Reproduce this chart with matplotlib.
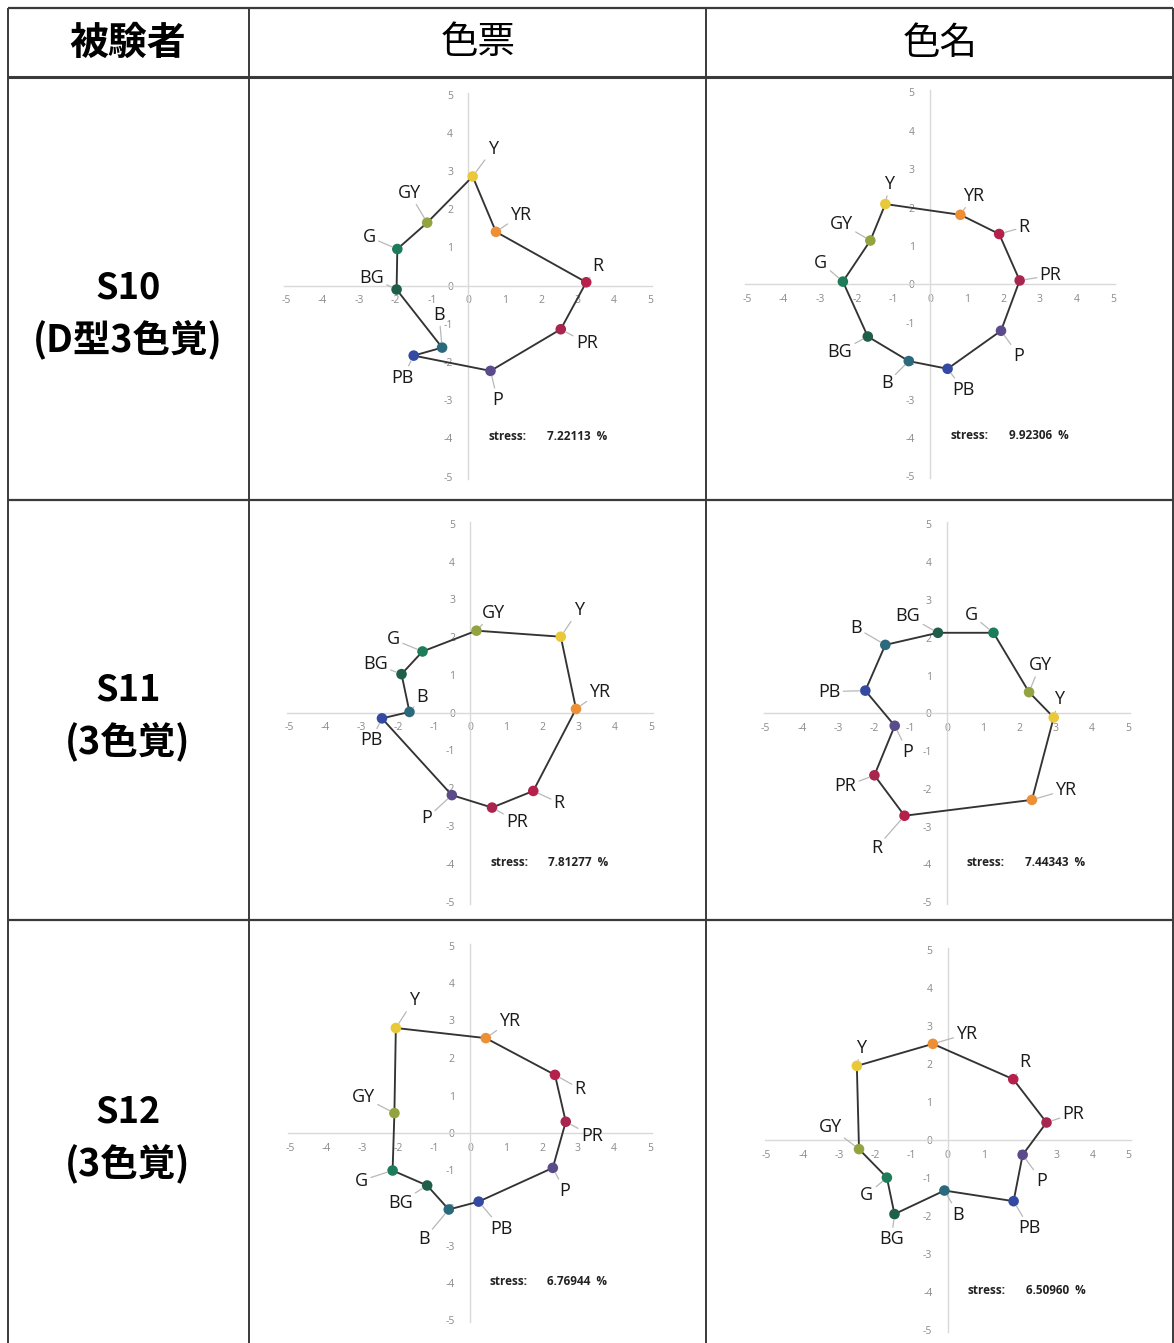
import matplotlib
matplotlib.use("Agg")
import matplotlib.pyplot as plt
from matplotlib.ticker import FixedLocator, FixedFormatter

plt.rcParams['font.family'] = ['Noto Sans CJK JP', 'DejaVu Sans']
plt.rcParams['axes.unicode_minus'] = False

W, H = 1174, 1343

# ---- data -------------------------------------------------------------
hues = ["R", "YR", "Y", "GY", "G", "BG", "B", "PB", "P", "PR"]
hue_colors = ["#b5214a", "#ec8f35", "#e9c83a", "#93a33f", "#1d7d5b",
              "#1f5f4a", "#2b6a7c", "#3349a2", "#5b4b8a", "#a8264e"]

subjects = ["S10", "S11", "S12"]
subject_notes = ["(D型3色覚)", "(3色覚)", "(3色覚)"]
columns = ["被験者", "色票", "色名"]
tick_values = [-5, -4, -3, -2, -1, 0, 1, 2, 3, 4, 5]

s10_chip_x = [3.24, 0.76, 0.12, -1.13, -1.95, -1.97, -0.72, -1.50, 0.61, 2.54]
s10_chip_y = [0.09, 1.41, 2.86, 1.65, 0.96, -0.10, -1.62, -1.83, -2.23, -1.14]
s10_name_x = [1.89, 0.83, -1.22, -1.63, -2.38, -1.70, -0.58, 0.48, 1.94, 2.45]
s10_name_y = [1.31, 1.81, 2.09, 1.14, 0.07, -1.36, -2.00, -2.20, -1.21, 0.10]

s11_chip_x = [1.74, 2.92, 2.50, 0.17, -1.32, -1.90, -1.68, -2.44, -0.51, 0.60]
s11_chip_y = [-2.07, 0.10, 2.01, 2.17, 1.62, 1.02, 0.02, -0.15, -2.18, -2.51]
s11_name_x = [-1.17, 2.34, 2.94, 2.26, 1.28, -0.25, -1.70, -2.25, -1.44, -2.00]
s11_name_y = [-2.71, -2.29, -0.11, 0.56, 2.13, 2.13, 1.81, 0.60, -0.33, -1.64]

s12_chip_x = [2.36, 0.44, -2.06, -2.10, -2.15, -1.19, -0.59, 0.24, 2.30, 2.66]
s12_chip_y = [1.55, 2.53, 2.80, 0.53, -1.00, -1.40, -2.04, -1.83, -0.93, 0.30]
s12_name_x = [1.81, -0.41, -2.51, -2.45, -1.68, -1.47, -0.09, 1.82, 2.07, 2.73]
s12_name_y = [1.60, 2.53, 1.95, -0.24, -0.99, -1.95, -1.33, -1.61, -0.39, 0.46]

stress_values = [7.22113, 9.92306, 7.81277, 7.44343, 6.76944, 6.50960]

# ---- layout -----------------------------------------------------------
# origin (px) and px-per-unit of each MDS panel, row by row
panel_frames = [
    (468.3, 285.7, 36.4, 38.2), (930.0, 284.3, 36.6, 38.4),
    (470.3, 712.7, 36.2, 37.8), (947.0, 713.3, 36.3, 37.8),
    (470.0, 1133.0, 36.0, 37.5), (947.7, 1140.0, 36.2, 38.0),
]
# callout offsets (px: right, down) in hue order
label_offsets = [
    [(12, -16), (25, -17), (20, -27), (-18, -30), (-28, -12), (-25, -12), (-3, -33), (-11, 22), (7, 29), (26, 14)],
    [(25, -7), (13, -19), (4, -20), (-29, -17), (-22, -19), (-28, 15), (-22, 22), (16, 21), (18, 25), (31, -5)],
    [(26, 12), (24, -17), (18, -27), (17, -18), (-29, -12), (-26, -10), (13, -15), (-11, 22), (-25, 23), (25, 14)],
    [(-28, 32), (34, -10), (5, -18), (11, -27), (-22, -18), (-30, -17), (-29, -17), (-36, 1), (13, 26), (-29, 11)],
    [(25, 14), (24, -17), (18, -28), (-31, -16), (-31, 10), (-27, 17), (-25, 30), (23, 27), (12, 23), (26, 14)],
    [(12, -17), (34, -10), (4, -18), (-29, -22), (-20, 17), (-3, 25), (14, 24), (16, 27), (19, 26), (27, -9)],
]

panels = [(s10_chip_x, s10_chip_y), (s10_name_x, s10_name_y),
          (s11_chip_x, s11_chip_y), (s11_name_x, s11_name_y),
          (s12_chip_x, s12_chip_y), (s12_name_x, s12_name_y)]

latin = ["Open Sans", "DejaVu Sans"]

fig = plt.figure(figsize=(W / 100, H / 100), dpi=100)
fig.patch.set_facecolor("white")

# ---- table grid and text (pixel coordinates) ---------------------------
bg = fig.add_axes([0, 0, 1, 1])
bg.set_xlim(0, W)
bg.set_ylim(H, 0)
bg.axis("off")
grid_col = "#3a3a3a"
for yy, lw in [(8, 1.6), (77, 2.2), (500, 1.6), (920, 1.6)]:
    bg.plot([8, 1173], [yy, yy], color=grid_col, lw=lw, solid_capstyle="butt")
for xx in [8, 249, 706, 1172.5]:
    bg.plot([xx, xx], [8, H], color=grid_col, lw=1.4, solid_capstyle="butt")

bg.text(128, 43, columns[0], ha="center", va="center", fontsize=28, fontweight="bold")
bg.text(478, 43, columns[1], ha="center", va="center", fontsize=27)
bg.text(940, 43, columns[2], ha="center", va="center", fontsize=27)

row_centers = [313, 715, 1137]
for name, note, yc in zip(subjects, subject_notes, row_centers):
    bg.text(128, yc - 25, name, ha="center", va="center", fontsize=26, fontweight="bold")
    bg.text(128, yc + 26, note, ha="center", va="center", fontsize=27, fontweight="bold")

# ---- MDS panels ---------------------------------------------------------
for i, ((xs, ys), (ox, oy, sx, sy)) in enumerate(zip(panels, panel_frames)):
    span = 5.6
    left = (ox - span * sx) / W
    width = 2 * span * sx / W
    bottom = 1 - (oy + span * sy) / H
    height = 2 * span * sy / H
    ax = fig.add_axes([left, bottom, width, height])
    ax.set_xlim(-span, span)
    ax.set_ylim(-span, span)
    ax.patch.set_visible(False)

    for side in ["top", "right"]:
        ax.spines[side].set_visible(False)
    for side in ["left", "bottom"]:
        ax.spines[side].set_position(("data", 0))
        ax.spines[side].set_color("#d9d9d9")
        ax.spines[side].set_linewidth(1.0)
        ax.spines[side].set_bounds(-5.05, 5.05)

    ax.xaxis.set_major_locator(FixedLocator(tick_values))
    ax.yaxis.set_major_locator(FixedLocator(tick_values))
    ax.xaxis.set_major_formatter(FixedFormatter([str(t) for t in tick_values]))
    ax.yaxis.set_major_formatter(FixedFormatter([str(t) for t in tick_values]))
    ax.tick_params(axis="both", length=0, labelsize=7.5, labelcolor="#8a8a8a")
    ax.tick_params(axis="x", pad=7)
    ax.tick_params(axis="y", pad=11)
    for lab in ax.get_xticklabels() + ax.get_yticklabels():
        lab.set_fontfamily(latin)

    # closed hue circle
    ax.plot(list(xs) + [xs[0]], list(ys) + [ys[0]], color="#333333", lw=1.35, zorder=3)
    ax.scatter(xs, ys, s=58, c=hue_colors, zorder=4, linewidths=0)

    for k, name in enumerate(hues):
        dx, dy = label_offsets[i][k]
        ax.annotate(name, xy=(xs[k], ys[k]), xytext=(dx, -dy),
                    textcoords="offset pixels", ha="center", va="center",
                    fontsize=13, family=latin, color="#1a1a1a",
                    arrowprops=dict(arrowstyle="-", color="#b8b8b8", lw=0.9,
                                    shrinkA=0, shrinkB=4),
                    zorder=5)

    ax.text(0.55, -3.95, "stress:", ha="left", va="center", fontsize=8.5,
            fontweight="bold", family=latin, color="#222222")
    ax.text(2.15, -3.95, "%.5f  %%" % stress_values[i], ha="left", va="center",
            fontsize=8.5, fontweight="bold", family=latin, color="#222222")

fig.savefig("out.png", dpi=100, facecolor="white")
